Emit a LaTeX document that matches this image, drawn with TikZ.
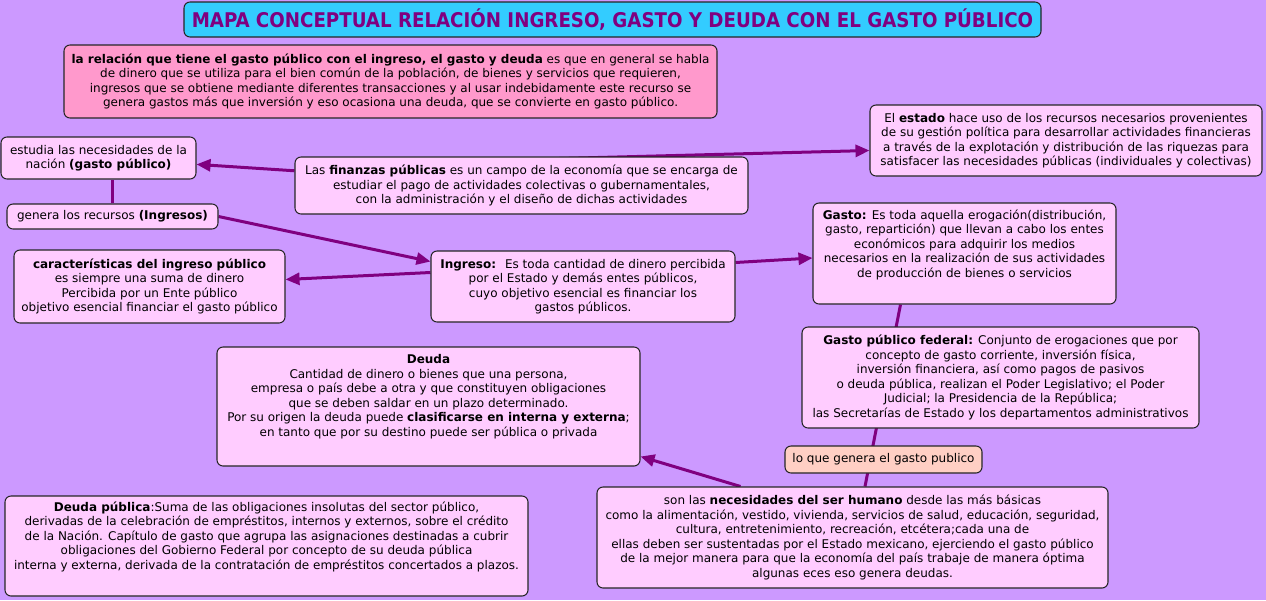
\documentclass[tikz,border=0pt]{standalone}
\usepackage{fontspec}
\setmainfont{DejaVu Sans}
\newfontfamily\titlefont{DejaVu Sans Condensed}
\usetikzlibrary{arrows.meta,calc,backgrounds}
\definecolor{bgpurple}{HTML}{CC99FF}
\definecolor{boxpink}{HTML}{FFCCFF}
\definecolor{intropink}{HTML}{FF99CC}
\definecolor{titlecyan}{HTML}{33CCFF}
\definecolor{peach}{HTML}{FFCFC4}
\definecolor{connpurple}{HTML}{800080}
\tikzset{
  box/.style={draw=black!85, line width=0.8pt, rounded corners=4.5pt, fill=boxpink,
    align=center, inner sep=1pt, font=\fontsize{9}{10.9}\selectfont},
  txt/.style={align=center, inner sep=0pt, font=\fontsize{9}{10.9}\selectfont},
  conn/.style={draw=connpurple, line width=2.25pt},
  arr/.style={conn, -{Triangle[length=10.5pt,width=9pt]}},
}
\begin{document}
\begin{tikzpicture}[x=0.75pt,y=-0.75pt]
\useasboundingbox (0,0) rectangle (1266,600);
% title
\node[box, fill=titlecyan, minimum width={857*0.75pt}, minimum height={35*0.75pt},
  font=\titlefont\bfseries\fontsize{15.2}{17}\selectfont, text=connpurple] (title) at (612.5,19.5)
  {MAPA CONCEPTUAL RELACIÓN INGRESO, GASTO Y DEUDA CON EL GASTO PÚBLICO};
% intro
\node[box, fill=intropink, minimum width={653*0.75pt}, minimum height={73*0.75pt}] (intro) at (390.5,81.5)
  {\textbf{la relación que tiene el gasto público con el ingreso, el gasto y deuda} es que en general se habla\\
   de dinero que se utiliza para el bien común de la población, de bienes y servicios que requieren,\\
   ingresos que se obtiene mediante diferentes transacciones y al usar indebidamente este recurso se\\
   genera gastos más que inversión y eso ocasiona una deuda, que se convierte en gasto público.};
\node[box, minimum width={195*0.75pt}, minimum height={42*0.75pt}] (estudia) at (98.5,158)
  {estudia las necesidades de la\\nación \textbf{(gasto público)}};
\node[box, minimum width={211*0.75pt}, minimum height={25*0.75pt}] (genera) at (112.5,216.5)
  {genera los recursos \textbf{(Ingresos)}};
\node[box, minimum width={271*0.75pt}, minimum height={73*0.75pt}] (caract) at (149.5,286.5)
  {\textbf{características del ingreso público}\\es siempre una suma de dinero\\Percibida por un Ente público\\objetivo esencial financiar el gasto público};
\node[box, minimum width={453*0.75pt}, minimum height={57*0.75pt}] (finanzas) at (521.5,185.5)
  {Las \textbf{finanzas públicas} es un campo de la economía que se encarga de\\
   estudiar el pago de actividades colectivas o gubernamentales,\\
   con la administración y el diseño de dichas actividades};
\node[box, minimum width={392*0.75pt}, minimum height={71*0.75pt}] (estado) at (1066,140.5)
  {El \textbf{estado} hace uso de los recursos necesarios provenientes\\
   de su gestión política para desarrollar actividades financieras\\
   a través de la explotación y distribución de las riquezas para\\
   satisfacer las necesidades públicas (individuales y colectivas)};
\node[box, minimum width={304*0.75pt}, minimum height={71*0.75pt}] (ingreso) at (583,286.5)
  {\textbf{Ingreso:}~ Es toda cantidad de dinero percibida\\por el Estado y demás entes públicos,\\cuyo objetivo esencial es financiar los\\gastos públicos.};
\node[box, minimum width={303*0.75pt}, minimum height={101*0.75pt}] (gasto) at (964.5,253.5) {};
\node[txt, anchor=north] (gastot) at ($(gasto.north)+(0,7)$)
  {\textbf{Gasto:} Es toda aquella erogación(distribución,\\
   gasto, repartición) que llevan a cabo los entes\\
   económicos para adquirir los medios\\
   necesarios en la realización de sus actividades\\
   de producción de bienes o servicios};
\node[box, minimum width={397*0.75pt}, minimum height={101*0.75pt}] (federal) at (1000.5,377.5)
  {\textbf{Gasto público federal:} Conjunto de erogaciones que por\\
   concepto de gasto corriente, inversión física,\\
   inversión financiera, así como pagos de pasivos\\
   o deuda pública, realizan el Poder Legislativo; el Poder\\
   Judicial; la Presidencia de la República;\\
   las Secretarías de Estado y los departamentos administrativos};
\node[box, minimum width={423*0.75pt}, minimum height={119*0.75pt}] (deuda) at (428.5,406.5) {};
\node[txt, anchor=north] (deudat) at ($(deuda.north)+(0,8)$)
  {\textbf{Deuda}\\
   Cantidad de dinero o bienes que una persona,\\
   empresa o país debe a otra y que constituyen obligaciones\\
   que se deben saldar en un plazo determinado.\\
   Por su origen la deuda puede \textbf{clasificarse en interna y externa};\\
   en tanto que por su destino puede ser pública o privada};
\node[box, fill=peach, minimum width={197*0.75pt}, minimum height={27*0.75pt}] (loque) at (883.5,459.5)
  {lo que genera el gasto publico};
\node[box, minimum width={511*0.75pt}, minimum height={101*0.75pt}] (necesidades) at (852.5,537.5)
  {son las \textbf{necesidades del ser humano} desde las más básicas\\
   como la alimentación, vestido, vivienda, servicios de salud, educación, seguridad,\\
   cultura, entretenimiento, recreación, etcétera;cada una de\\
   ellas deben ser sustentadas por el Estado mexicano, ejerciendo el gasto público\\
   de la mejor manera para que la economía del país trabaje de manera óptima\\
   algunas eces eso genera deudas.};
\node[box, minimum width={523*0.75pt}, minimum height={100*0.75pt}] (deudapub) at (266.5,546) {};
\node[txt, anchor=north] (deudapubt) at ($(deudapub.north)+(0,6)$)
  {\textbf{Deuda pública}:Suma de las obligaciones insolutas del sector público,\\
   derivadas de la celebración de empréstitos, internos y externos, sobre el crédito\\
   de la Nación. Capítulo de gasto que agrupa las asignaciones destinadas a cubrir\\
   obligaciones del Gobierno Federal por concepto de su deuda pública\\
   interna y externa, derivada de la contratación de empréstitos concertados a plazos.};
\begin{pgfonlayer}{background}
\fill[bgpurple] (0,0) rectangle (1266,600);
\draw[arr] (finanzas) -- (estudia);
\draw[arr] ($(finanzas.north)+(0,3)$) -- ($(estado.west)+(0,10)$);
\draw[conn] (genera.north) -- (genera.north |- estudia.south);
\draw[arr] (genera.east) -- ($(ingreso.west)+(0,-25)$);
\draw[arr] ($(ingreso.west)+(0,-14)$) -- ($(caract.east)+(0,-7)$);
\draw[arr] ($(ingreso.east)+(0,-24)$) -- ($(gasto.west)+(0,4.5)$);
\draw[conn] ($(gasto.south)+(-64,0)$) -- ($(necesidades.north)+(12.5,0)$);
\draw[arr] ($(necesidades.north)+(-112,0)$) -- ($(deuda.east)+(0,50)$);
\end{pgfonlayer}
\end{tikzpicture}
\end{document}
